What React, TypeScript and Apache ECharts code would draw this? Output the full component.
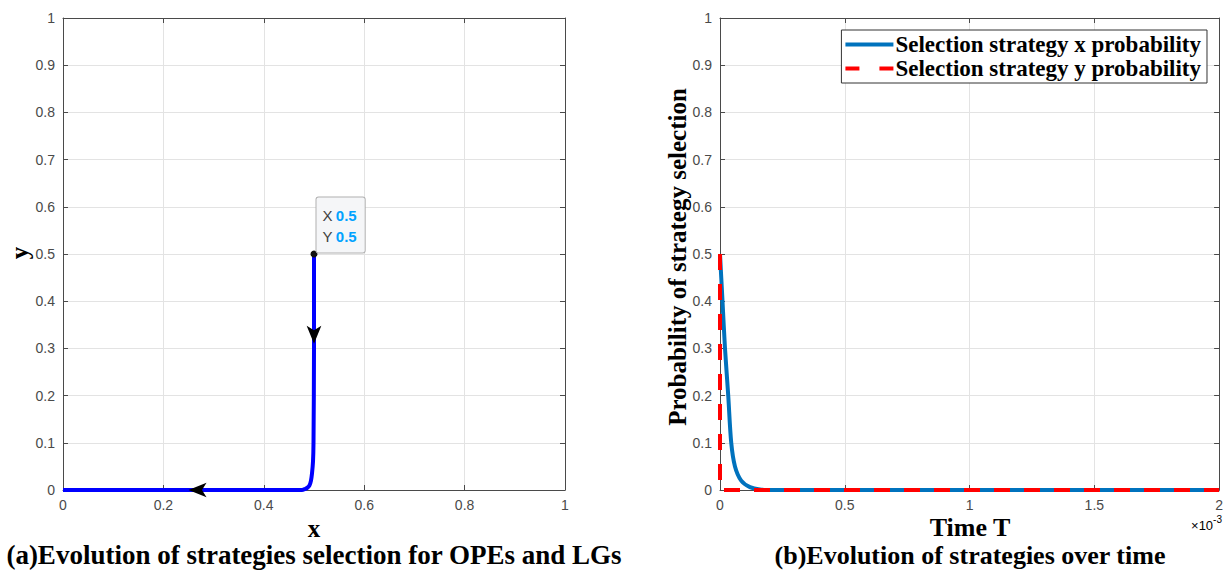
import React, { useEffect, useRef } from "react";
import * as echarts from "echarts";

// Left panel: phase trajectory (x, y)
const trajX = [0.5, 0.5, 0.499, 0.498, 0.496, 0.494, 0.491, 0.487, 0.482, 0.476, 0.4, 0.2, 0];
const trajY = [0.5, 0.3, 0.1, 0.06, 0.035, 0.02, 0.01, 0.005, 0.002, 0, 0, 0, 0];
const startPoint = [0.5, 0.5];
const arrowDown = [0.5, 0.31];
const arrowLeft = [0.25, 0];

// Right panel: probabilities over time (time in units of 1e-3)
const timeT = [0, 0.005, 0.01, 0.02, 0.033, 0.045, 0.06, 0.085, 0.12, 0.16, 0.22, 0.5, 1, 1.5, 2];
const probX = [0.5, 0.45, 0.4, 0.3, 0.2, 0.1, 0.05, 0.02, 0.006, 0.001, 0, 0, 0, 0, 0];
const timeY = [0, 0, 0.5, 1, 1.5, 2];
const probY = [0.5, 0, 0, 0, 0, 0];

const leftXTicks = { min: 0, max: 1, interval: 0.2 };
const yTicks = { min: 0, max: 1, interval: 0.1 };
const rightXTicks = { min: 0, max: 2, interval: 0.5 };

const seriesNames = ["Selection strategy x probability", "Selection strategy y probability"];

const AXIS_COLOR = "#4a4a4a";
const GRID_COLOR = "#e3e3e3";
const SANS = "Liberation Sans, Arial, sans-serif";
const SERIF = "Liberation Serif, Times New Roman, serif";

function primaryX(gridIndex: number, t: any) {
  return {
    type: "value",
    gridIndex,
    position: "bottom",
    min: t.min,
    max: t.max,
    interval: t.interval,
    axisLine: { show: true, onZero: false, lineStyle: { color: AXIS_COLOR, width: 1 } },
    axisTick: { show: true, inside: true, length: 5, lineStyle: { color: AXIS_COLOR } },
    axisLabel: { color: AXIS_COLOR, fontSize: 14, fontFamily: SANS, margin: 8 },
    splitLine: { show: true, lineStyle: { color: GRID_COLOR, width: 1 } },
  };
}
function secondaryX(gridIndex: number, t: any) {
  return {
    type: "value",
    gridIndex,
    position: "top",
    min: t.min,
    max: t.max,
    interval: t.interval,
    axisLine: { show: true, onZero: false, lineStyle: { color: AXIS_COLOR, width: 1 } },
    axisTick: { show: true, inside: true, length: 5, lineStyle: { color: AXIS_COLOR } },
    axisLabel: { show: false },
    splitLine: { show: false },
  };
}
function primaryY(gridIndex: number, t: any) {
  return {
    type: "value",
    gridIndex,
    position: "left",
    min: t.min,
    max: t.max,
    interval: t.interval,
    axisLine: { show: true, onZero: false, lineStyle: { color: AXIS_COLOR, width: 1 } },
    axisTick: { show: true, inside: true, length: 5, lineStyle: { color: AXIS_COLOR } },
    axisLabel: { color: AXIS_COLOR, fontSize: 14, fontFamily: SANS, margin: 8 },
    splitLine: { show: true, lineStyle: { color: GRID_COLOR, width: 1 } },
  };
}
function secondaryY(gridIndex: number, t: any) {
  return {
    type: "value",
    gridIndex,
    position: "right",
    min: t.min,
    max: t.max,
    interval: t.interval,
    axisLine: { show: true, onZero: false, lineStyle: { color: AXIS_COLOR, width: 1 } },
    axisTick: { show: true, inside: true, length: 5, lineStyle: { color: AXIS_COLOR } },
    axisLabel: { show: false },
    splitLine: { show: false },
  };
}

export default function App() {
  const ref = useRef<HTMLDivElement>(null);
  useEffect(() => {
    if (!ref.current) return;
    const chart = echarts.init(ref.current, null, { renderer: "svg" });
    const traj = trajX.map((x, i) => [x, trajY[i]]);
    const sx = timeT.map((t, i) => [t, probX[i]]);
    const sy = timeY.map((t, i) => [t, probY[i]]);

    chart.setOption({
      animation: false,
      backgroundColor: "#ffffff",
      grid: [
        { left: 63, top: 18, width: 502, height: 472, containLabel: false },
        { left: 720, top: 18, width: 500, height: 472, containLabel: false },
      ],
      xAxis: [primaryX(0, leftXTicks), secondaryX(0, leftXTicks), primaryX(1, rightXTicks), secondaryX(1, rightXTicks)],
      yAxis: [primaryY(0, yTicks), secondaryY(0, yTicks), primaryY(1, yTicks), secondaryY(1, yTicks)],
      legend: {
        orient: "vertical",
        right: 19,
        top: 30,
        itemGap: 1,
        itemWidth: 48,
        itemHeight: 24,
        padding: [3, 6, 3, 2],
        backgroundColor: "#ffffff",
        borderColor: "#333333",
        borderWidth: 1,
        borderRadius: 0,
        itemStyle: { opacity: 0 },
        lineStyle: { width: 4 },
        textStyle: { fontFamily: SERIF, fontWeight: "bold", fontSize: 23, color: "#000000", padding: [0, 0, 0, -3] },
        data: [
          { name: seriesNames[0], itemStyle: { opacity: 0 }, lineStyle: { width: 4, color: "#0072bd" } },
          { name: seriesNames[1], itemStyle: { opacity: 0 }, lineStyle: { width: 4, color: "#ff0000", type: [14, 20] } },
        ],
      },
      series: [
        {
          type: "line",
          xAxisIndex: 0,
          yAxisIndex: 0,
          data: traj,
          showSymbol: false,
          symbol: "none",
          smooth: 0.3,
          lineStyle: { color: "#0000ff", width: 4 },
          markPoint: {
            silent: true,
            data: [
              {
                coord: startPoint,
                symbol: "circle",
                symbolSize: 7,
                itemStyle: { color: "#111111" },
                label: {
                  show: true,
                  position: [6, -53],
                  formatter: "{k|X} {v|0.5}\n{k|Y} {v|0.5}",
                  backgroundColor: "#f5f6f8",
                  borderColor: "#b0b0b0",
                  borderWidth: 1,
                  borderRadius: 2,
                  padding: [7, 8, 6, 6],
                  rich: {
                    k: { fontFamily: SANS, fontSize: 15, color: "#404040", lineHeight: 21 },
                    v: { fontFamily: SANS, fontSize: 15, color: "#00a2ff", fontWeight: "bold", lineHeight: 21 },
                  },
                },
              },
              {
                coord: arrowDown,
                symbol: "arrow",
                symbolSize: [11, 18],
                symbolRotate: 180,
                itemStyle: { color: "#000000" },
                label: { show: false },
              },
              {
                coord: arrowLeft,
                symbol: "arrow",
                symbolSize: [11, 18],
                symbolRotate: 90,
                itemStyle: { color: "#000000" },
                label: { show: false },
              },
            ],
          },
        },
        {
          name: seriesNames[0],
          type: "line",
          xAxisIndex: 2,
          yAxisIndex: 2,
          data: sx,
          symbol: "none",
          showSymbol: false,
          smooth: 0.3,
          lineStyle: { color: "#0072bd", width: 4 },
          itemStyle: { color: "#0072bd" },
        },
        {
          name: seriesNames[1],
          type: "line",
          xAxisIndex: 2,
          yAxisIndex: 2,
          data: sy,
          symbol: "none",
          showSymbol: false,
          lineStyle: { color: "#ff0000", width: 4, type: [16, 14] },
          itemStyle: { color: "#ff0000" },
        },
      ],
      graphic: [
        {
          type: "text",
          x: 19,
          y: 253,
          rotation: Math.PI / 2,
          style: { text: "y", font: `bold 25px ${SERIF}`, fill: "#000", align: "center", verticalAlign: "middle" },
        },
        {
          type: "text",
          x: 314,
          y: 528,
          style: { text: "x", font: `bold 25px ${SERIF}`, fill: "#000", align: "center", verticalAlign: "middle" },
        },
        {
          type: "text",
          x: 677,
          y: 257,
          rotation: Math.PI / 2,
          style: {
            text: "Probability of strategy selection",
            font: `bold 25px ${SERIF}`,
            fill: "#000",
            align: "center",
            verticalAlign: "middle",
          },
        },
        {
          type: "text",
          x: 970,
          y: 527,
          style: { text: "Time T", font: `bold 26px ${SERIF}`, fill: "#000", align: "center", verticalAlign: "middle" },
        },
        {
          type: "text",
          x: 1222,
          y: 523,
          style: {
            text: "{a|×10}{b|-3}",
            align: "right",
            verticalAlign: "middle",
            rich: {
              a: { fontFamily: SANS, fontSize: 13, color: AXIS_COLOR, verticalAlign: "bottom" },
              b: { fontFamily: SANS, fontSize: 10, color: AXIS_COLOR, verticalAlign: "top", padding: [0, 0, 8, 0] },
            },
          },
        },
        {
          type: "text",
          x: 314,
          y: 555,
          style: {
            text: "(a)Evolution of strategies selection for OPEs and LGs",
            font: `bold 27px ${SERIF}`,
            fill: "#000",
            align: "center",
            verticalAlign: "middle",
          },
        },
        {
          type: "text",
          x: 970,
          y: 555,
          style: {
            text: "(b)Evolution of strategies over time",
            font: `bold 26px ${SERIF}`,
            fill: "#000",
            align: "center",
            verticalAlign: "middle",
          },
        },
      ],
    });
    return () => chart.dispose();
  }, []);
  return (
    <div
      ref={ref}
      style={{ position: "fixed", left: 0, top: 0, width: 1226, height: 571, background: "#fff" }}
    />
  );
}
